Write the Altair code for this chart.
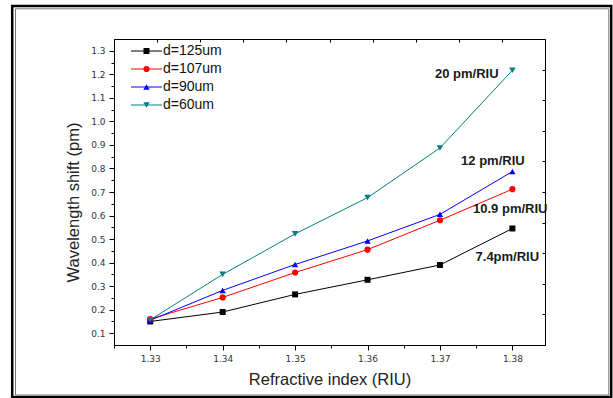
import altair as alt
import pandas as pd

# ---------------- data ----------------
ri = [1.33, 1.34, 1.35, 1.36, 1.37, 1.38]
series_names = ["d=125um", "d=107um", "d=90um", "d=60um"]
shift_125 = [0.150, 0.190, 0.265, 0.327, 0.390, 0.545]
shift_107 = [0.160, 0.252, 0.358, 0.455, 0.580, 0.712]
shift_90 = [0.155, 0.282, 0.392, 0.492, 0.605, 0.787]
shift_60 = [0.157, 0.350, 0.522, 0.676, 0.887, 1.217]

colors = ["#000000", "#ff0000", "#0000ff", "#008080"]
marker_shapes = ["square", "circle", "triangle-up", "triangle-down"]
marker_sizes = [36, 42, 64, 90]

ann_text = ["20 pm/RIU", "12 pm/RIU", "10.9 pm/RIU", "7.4pm/RIU"]
ann_x = [1.3737, 1.3773, 1.3797, 1.3793]
ann_y = [1.200, 0.832, 0.629, 0.422]

x_major = [1.33, 1.34, 1.35, 1.36, 1.37, 1.38]
x_minor = [1.325, 1.335, 1.345, 1.355, 1.365, 1.375]
y_major = [0.1, 0.2, 0.3, 0.4, 0.5, 0.6, 0.7, 0.8, 0.9, 1.0, 1.1, 1.2, 1.3]
y_minor = [0.15, 0.25, 0.35, 0.45, 0.55, 0.65, 0.75, 0.85, 0.95, 1.05, 1.15, 1.25]
frame_ticks = [0, 1, 2, 3, 4, 5, 6, 7, 8, 9, 10]

rows = []
for name, vals in zip(series_names, [shift_125, shift_107, shift_90, shift_60]):
    for xv, yv in zip(ri, vals):
        rows.append({"series": name, "ri": xv, "shift": yv})
df = pd.DataFrame(rows)
ann_df = pd.DataFrame({"x": ann_x, "y": ann_y, "t": ann_text})
leg_df = pd.DataFrame({"series": series_names})

W, H = 431, 306
LEFT, TOP = 114, 39
X_DOM = [1.325, 1.3845]
Y_DOM = [0.05, 1.35]

x_scale = alt.Scale(domain=X_DOM, nice=False, zero=False)
y_scale = alt.Scale(domain=Y_DOM, nice=False, zero=False)
color_scale = alt.Scale(domain=series_names, range=colors)
shape_scale = alt.Scale(domain=series_names, range=marker_shapes)
size_scale = alt.Scale(domain=series_names, range=marker_sizes)

x_axis = alt.Axis(
    title="Refractive index (RIU)", values=x_major, tickCount=100, format=".2f", tickSize=5,
    labelOverlap=False, labelFlush=False,
    labelFont="DejaVu Sans", labelFontSize=9, labelColor="#333333", labelPadding=4,
    titleFont="Liberation Sans", titleFontSize=16.5, titleFontWeight="normal", titleColor="#222222",
    titlePadding=8, grid=False, domainColor="black", tickColor="black",
)
y_axis = alt.Axis(
    title="Wavelength shift (pm)", values=y_major, tickCount=100, format=".1f", tickSize=5,
    labelOverlap=False, labelFlush=False,
    labelFont="DejaVu Sans", labelFontSize=9, labelColor="#333333", labelPadding=4,
    titleFont="Liberation Sans", titleFontSize=16.5, titleFontWeight="normal", titleColor="#222222",
    titlePadding=9, titleY=163, grid=False, domainColor="black", tickColor="black",
)

base = alt.Chart(df)
lines = base.mark_line(strokeWidth=1).encode(
    x=alt.X("ri:Q", scale=x_scale, axis=x_axis),
    y=alt.Y("shift:Q", scale=y_scale, axis=y_axis),
    color=alt.Color("series:N", scale=color_scale, legend=None),
    detail="series:N",
)
points = base.mark_point(filled=True, opacity=1).encode(
    x=alt.X("ri:Q", scale=x_scale),
    y=alt.Y("shift:Q", scale=y_scale),
    color=alt.Color("series:N", scale=color_scale, legend=None),
    shape=alt.Shape("series:N", scale=shape_scale, legend=None),
    size=alt.Size("series:N", scale=size_scale, legend=None),
)
texts = alt.Chart(ann_df).mark_text(
    font="Liberation Sans", fontSize=13, fontWeight="bold", color="#1a1a1a", align="center", baseline="middle"
).encode(
    x=alt.X("x:Q", scale=x_scale),
    y=alt.Y("y:Q", scale=y_scale),
    text="t:N",
)
inner = alt.layer(lines, points, texts)

# ---------------- legend (line + marker + label per series) ----------------
leg_base = alt.Chart(leg_df).transform_window(row="row_number()").transform_calculate(
    lbl="length(datum.series) < 7 ? '\u00a0' + datum.series : datum.series"
)
leg_y = alt.Y("row:Q", scale=alt.Scale(domain=[1, 4], range=[12, 66], nice=False, zero=False), axis=None)
leg_line = leg_base.mark_rule(strokeWidth=1).encode(
    x=alt.value(17), x2=alt.value(48), y=leg_y,
    color=alt.Color("series:N", scale=color_scale, legend=None),
)
leg_mark = leg_base.mark_point(filled=True, opacity=1).encode(
    x=alt.value(32.5), y=leg_y,
    color=alt.Color("series:N", scale=color_scale, legend=None),
    shape=alt.Shape("series:N", scale=shape_scale, legend=None),
    size=alt.Size("series:N", scale=size_scale, legend=None),
)
leg_text = leg_base.mark_text(
    align="left", baseline="middle", font="Liberation Sans", fontSize=14, color="#111111"
).encode(x=alt.value(49), y=leg_y, text="lbl:N")
legend = alt.layer(leg_line, leg_mark, leg_text)

# minor ticks on bottom / left axes
minor = alt.Chart(pd.DataFrame({"my": y_minor})).mark_point(opacity=0).encode(
    x=alt.X("my:Q", scale=alt.Scale(domain=X_DOM, nice=False, zero=False),
            axis=alt.Axis(orient="bottom", values=x_minor, tickCount=100, labels=False, domain=False,
                          tickSize=3, title=None, tickColor="black", grid=False)),
    y=alt.Y("my:Q", scale=alt.Scale(domain=Y_DOM, nice=False, zero=False),
            axis=alt.Axis(orient="left", values=y_minor, tickCount=100, labels=False, domain=False,
                          tickSize=3, title=None, tickColor="black", grid=False)),
)

# inward ticks on top / right frame
frame_axes = alt.Chart(pd.DataFrame({"t": frame_ticks})).mark_point(opacity=0).encode(
    x=alt.X("t:Q", scale=alt.Scale(domain=[0, 10], nice=False, zero=False),
            axis=alt.Axis(orient="top", values=frame_ticks, tickCount=100, labels=False, domain=False,
                          tickSize=3, offset=-3, title=None, tickColor="black", grid=False)),
    y=alt.Y("t:Q", scale=alt.Scale(domain=[0, 10], nice=False, zero=False),
            axis=alt.Axis(orient="right", values=frame_ticks, tickCount=100, labels=False, domain=False,
                          tickSize=3, offset=-3, title=None, tickColor="black", grid=False)),
)

one = pd.DataFrame({"a": [0]})
frame_outer = alt.Chart(one).mark_rect(fill=None, stroke="black", strokeWidth=2.5).encode(
    x=alt.value(12.2 - LEFT), x2=alt.value(611.2 - LEFT),
    y=alt.value(6 - TOP), y2=alt.value(397 - TOP),
)
frame_inner = alt.Chart(one).mark_rect(fill=None, stroke="#777777", strokeWidth=1).encode(
    x=alt.value(15.5 - LEFT), x2=alt.value(608.8 - LEFT),
    y=alt.value(8.8 - TOP), y2=alt.value(395 - TOP),
)

chart = alt.layer(inner, legend, minor, frame_axes, frame_outer, frame_inner).resolve_scale(
    x="independent", y="independent"
).properties(
    width=W, height=H,
    autosize=alt.AutoSizeParams(type="none"),
    padding={"left": LEFT, "top": TOP, "right": 613 - LEFT - W, "bottom": 398 - TOP - H},
    background="white",
).configure_view(stroke="black", strokeWidth=1)

chart.save("out.html", embed_options={"renderer": "svg", "actions": False})
